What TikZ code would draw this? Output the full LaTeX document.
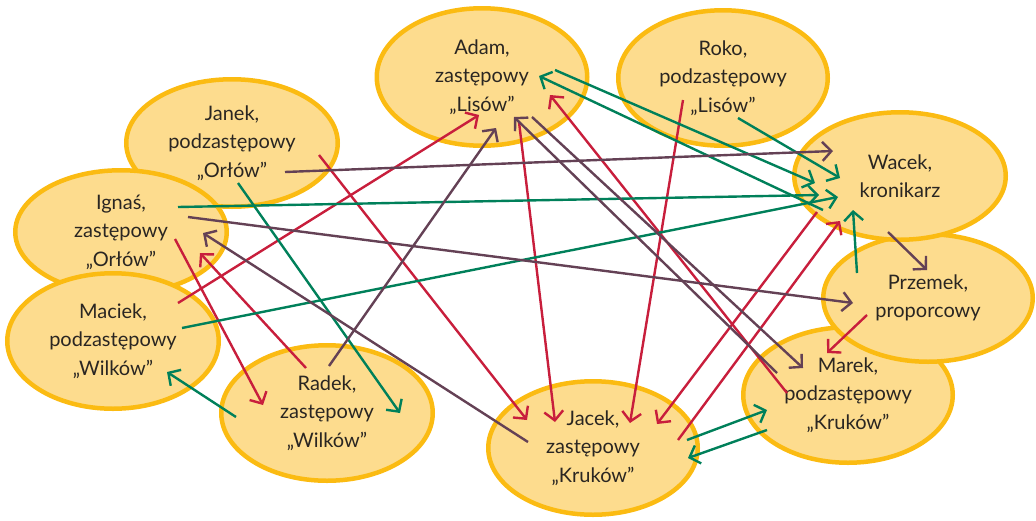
\documentclass[tikz,border=0pt]{standalone}
\usepackage{fontspec}
\setmainfont{Lato}
\usetikzlibrary{shapes.geometric,arrows.meta,calc}
\definecolor{ringc}{HTML}{FBBB12}
\definecolor{fillc}{HTML}{FDDC8E}
\definecolor{textc}{HTML}{2A2622}
\definecolor{redc}{HTML}{C81E3C}
\definecolor{greenc}{HTML}{00805A}
\definecolor{purplec}{HTML}{644155}
\begin{document}
\begin{tikzpicture}[x=1pt,y=-1pt,
  person/.style={ellipse, draw=ringc, fill=fillc, line width=4.5pt, inner sep=0pt,
    align=center, text=textc, font=\fontsize{20}{28.5}\selectfont},
  conn/.style={line width=2.4pt, -{Straight Barb[length=9pt,width=19pt]}},
  redline/.style={conn, draw=redc},
  greenline/.style={conn, draw=greenc},
  purpleline/.style={conn, draw=purplec}]
\useasboundingbox (0,0) rectangle (1036,520);
% persons
\node[person, minimum width=211.5pt, minimum height=127.5pt] (janek) at (232,143) {Janek,\\podzastępowy\\„Orłów”};
\node[person, minimum width=211.5pt, minimum height=123.5pt] (ignas) at (121,232) {Ignaś,\\zastępowy\\„Orłów”};
\node[person, minimum width=211.5pt, minimum height=135.5pt] (maciek) at (113,341) {Maciek,\\podzastępowy\\„Wilków”};
\node[person, minimum width=211.5pt, minimum height=135.5pt] (radek) at (327,413) {Radek,\\zastępowy\\„Wilków”};
\node[person, minimum width=210.5pt, minimum height=137.5pt] (adam) at (482,77) {Adam,\\zastępowy\\„Lisów”};
\node[person, minimum width=209.5pt, minimum height=135.5pt] (roko) at (723,78) {Roko,\\podzastępowy\\„Lisów”};
\node[person, minimum width=209.5pt, minimum height=135.5pt] (marek) at (848,395) {Marek,\\podzastępowy\\„Kruków”};
\node[person, minimum width=209.5pt, minimum height=127.5pt] (przemek) at (928,298) {Przemek,\\proporcowy};
\node[person, minimum width=211.5pt, minimum height=127.5pt] (wacek) at (900,176) {Wacek,\\kronikarz};
\node[person, minimum width=209.5pt, minimum height=133.5pt] (jacek) at (593,448) {Jacek,\\zastępowy\\„Kruków”};
% red
\draw[redline] ($(maciek)+(65,-38)$) -- ($(adam)+(-3,38)$);
\draw[redline] ($(ignas)+(54,7)$) -- ($(radek)+(-64,-8)$);
\draw[redline] ($(radek)+(-21,-45)$) -- ($(ignas)+(79,21)$);
\draw[redline] ($(janek)+(87,12)$) -- ($(jacek)+(-66,-28)$);
\draw[redline] ($(adam)+(37,45)$) -- ($(jacek)+(-38,-26)$);
\draw[redline] ($(roko)+(-40,22)$) -- ($(jacek)+(37,-25)$);
\draw[redline] ($(wacek)+(-83,36)$) -- ($(jacek)+(64,-24)$);
\draw[redline] ($(jacek)+(85,-8)$) -- ($(wacek)+(-60,45)$);
\draw[redline] ($(marek)+(-61,-2)$) -- ($(adam)+(68,18)$);
\draw[redline] ($(przemek)+(-61,17)$) -- ($(marek)+(-21,-42)$);
% green
\draw[greenline] ($(janek)+(6,40)$) -- ($(radek)+(73,0)$);
\draw[greenline] ($(radek)+(-91,4)$) -- ($(maciek)+(54,31)$);
\draw[greenline] ($(ignas)+(57,-25)$) -- ($(wacek)+(-81,19)$);
\draw[greenline] ($(maciek)+(69,-13)$) -- ($(wacek)+(-62,21)$);
\draw[greenline] ($(adam)+(73,-7)$) -- ($(wacek)+(-85,7)$);
\draw[greenline] ($(wacek)+(-77,34)$) -- ($(adam)+(57,-1)$);
\draw[greenline] ($(roko)+(15,40)$) -- ($(wacek)+(-60,2)$);
\draw[greenline] ($(przemek)+(-71,-25)$) -- ($(wacek)+(-47,34)$);
\draw[greenline] ($(jacek)+(94,-8)$) -- ($(marek)+(-81,15)$);
\draw[greenline] ($(marek)+(-81,35)$) -- ($(jacek)+(95,10)$);
% purple
\draw[purpleline] ($(janek)+(53,29)$) -- ($(wacek)+(-67,-25)$);
\draw[purpleline] ($(ignas)+(67,-15)$) -- ($(przemek)+(-75,5)$);
\draw[purpleline] ($(jacek)+(-65,-6)$) -- ($(ignas)+(82,1)$);
\draw[purpleline] ($(radek)+(2,-47)$) -- ($(adam)+(14,51)$);
\draw[purpleline] ($(adam)+(50,40)$) -- ($(marek)+(-45,-27)$);
\draw[purpleline] ($(marek)+(-71,-22)$) -- ($(adam)+(32,40)$);
\draw[purpleline] ($(wacek)+(-12,56)$) -- ($(przemek)+(-1,-28)$);
\end{tikzpicture}
\end{document}
